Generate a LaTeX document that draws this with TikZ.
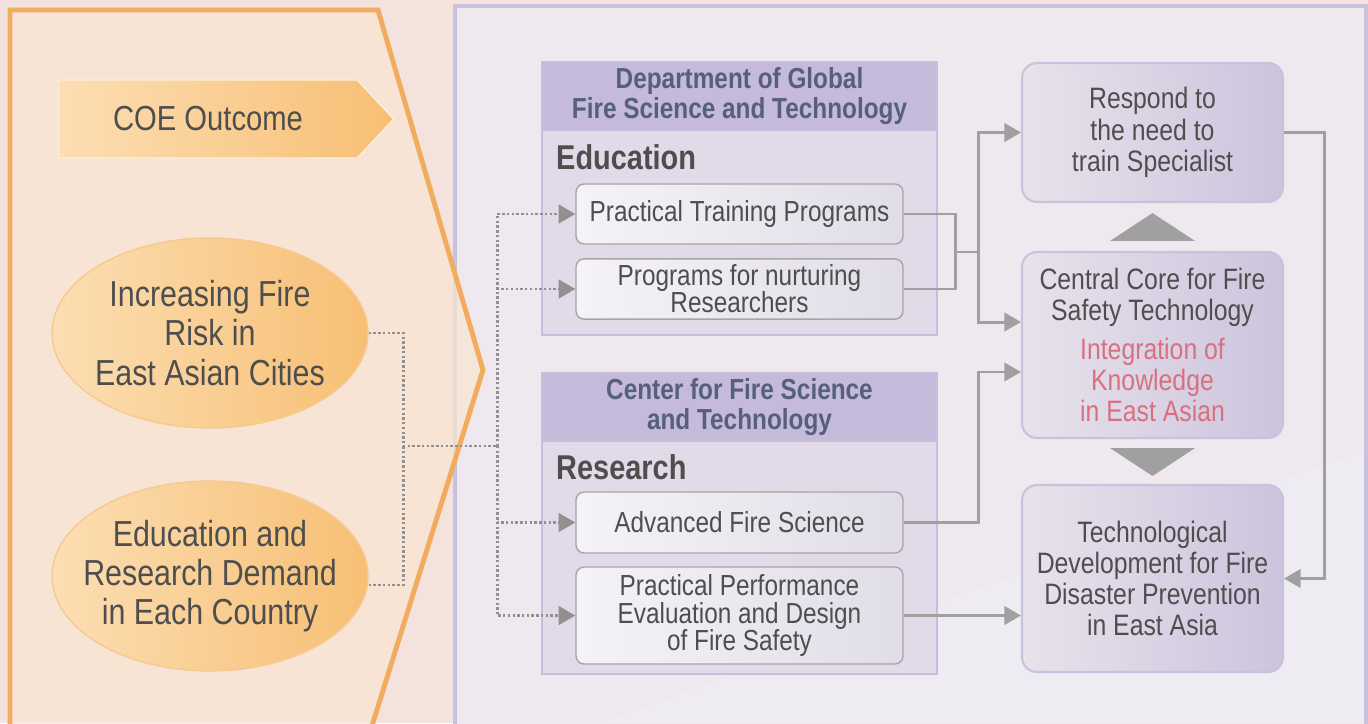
\documentclass[tikz,border=0pt]{standalone}
\usepackage{fontspec}
\setmainfont{Liberation Sans}[FakeStretch=0.84]
\usetikzlibrary{shapes.geometric,shapes.symbols,arrows.meta,calc}

\definecolor{bgpink}{HTML}{F4E2DD}
\definecolor{chevfill}{HTML}{F9E6D2}
\definecolor{chevedge}{HTML}{F1AC5F}
\definecolor{panelfill}{HTML}{EFE8EF}
\definecolor{panellow}{HTML}{EEEBF2}
\definecolor{paneledge}{HTML}{C8C2DF}
\definecolor{orlight}{HTML}{FCDEB3}
\definecolor{ordark}{HTML}{F7BF74}
\definecolor{oredge}{HTML}{F6CA8E}
\definecolor{grpfill}{HTML}{E2DAE8}
\definecolor{grphead}{HTML}{C5BAD9}
\definecolor{grpedge}{HTML}{C7BDDC}
\definecolor{headtext}{HTML}{56607E}
\definecolor{darktext}{HTML}{4E4E4E}
\definecolor{itemlight}{HTML}{F5F3F7}
\definecolor{itemdark}{HTML}{E1DDE8}
\definecolor{itemedge}{HTML}{A5A5A5}
\definecolor{reslight}{HTML}{E8E2EC}
\definecolor{resdark}{HTML}{CCC4DD}
\definecolor{linkgray}{HTML}{A0A0A0}
\definecolor{rosetext}{HTML}{D8707F}

\tikzset{
  ovalbox/.style={ellipse, draw=oredge, line width=0.8pt, left color=orlight, right color=ordark,
    inner xsep=-0.5cm, inner ysep=0pt, minimum width=6.32cm, minimum height=3.8cm,
    align=center, text=darktext, font=\fontsize{20.6}{22.4}\selectfont},
  groupbox/.style={draw=grpedge, line width=1.2pt, fill=grpfill, minimum width=7.9cm},
  headbox/.style={draw=grpedge, line width=1.2pt, fill=grphead, minimum width=7.9cm,
    align=center, text=headtext, font=\bfseries\fontsize{16.5}{16.8}\selectfont},
  sectlabel/.style={anchor=west, text=darktext, font=\bfseries\fontsize{19.6}{20}\selectfont},
  itembox/.style={draw=itemedge, line width=0.8pt, rounded corners=0.16cm, left color=itemlight,
    right color=itemdark, minimum width=6.54cm, align=center, text=darktext,
    font=\fontsize{16.5}{15.5}\selectfont},
  resultbox/.style={draw=paneledge, line width=1.2pt, rounded corners=0.3cm, left color=reslight,
    right color=resdark, minimum width=5.22cm, align=center, text=darktext,
    font=\fontsize{16.8}{17.8}\selectfont},
  dotlink/.style={draw=linkgray!90!black, line width=1.7pt, dash pattern=on 1.4pt off 1.3pt},
  link/.style={draw=linkgray, line width=1.7pt},
  linktip/.style={-{Triangle[length=9.5pt,width=10.5pt]}},
}

\begin{document}
\begin{tikzpicture}[x=0.02cm, y=-0.02cm]
    \useasboundingbox (0,0) rectangle (1368,723);
    \fill[bgpink] (0,0) rectangle (1368,723);
    % right panel
    \fill[panelfill] (455,6) rectangle (1366,760);
    \fill[panellow] (600,723) -- (1366,450) -- (1366,723) -- cycle;
    \draw[paneledge, line width=2.8pt] (455,6) rectangle (1366,760);
    % left chevron
    \filldraw[fill=chevfill, fill opacity=0.7, draw=chevedge, line width=2.8pt]
      (10,760) -- (10,10) -- (378,10) -- (483,370) -- (366,745);

    \node[signal, signal to=east, signal pointer angle=94, draw=orlight!50!white, line width=0.8pt,
      left color=orlight, right color=ordark, minimum width=6.7cm, minimum height=1.56cm,
      text=darktext, font=\fontsize{19.8}{20}\selectfont] (coe) at (208,119) {COE Outcome};

    \node[ovalbox] (risk) at (210,333) {Increasing Fire\\Risk in\\East Asian Cities};
    \node[ovalbox] (demand) at (210,576) {Education and\\Research Demand\\in Each Country};

    % education group
    \node[groupbox, minimum height=5.46cm] (dept) at (739.5,198.5) {};
    \node[headbox, minimum height=1.32cm, anchor=north] (depthead) at (dept.north)
      {Department of Global\\Fire Science and Technology};
    \node[sectlabel] (edu) at (550,157) {Education};
    \node[itembox, minimum height=1.2cm] (ptp) at (739.5,214) {Practical Training Programs};
    \node[itembox, minimum height=1.2cm] (nurt) at (739.5,289) {Programs for nurturing\\Researchers};

    % research group
    \node[groupbox, minimum height=6.02cm] (ctr) at (739.5,523.5) {};
    \node[headbox, minimum height=1.34cm, anchor=north] (ctrhead) at (ctr.north)
      {Center for Fire Science\\and Technology};
    \node[sectlabel] (res) at (550,467) {Research};
    \node[itembox, minimum height=1.22cm] (afs) at (739.5,522.5) {Advanced Fire Science};
    \node[itembox, minimum height=1.94cm] (ppe) at (739.5,615.5)
      {Practical Performance\\Evaluation and Design\\of Fire Safety};

    % outcomes
    \node[resultbox, minimum height=2.78cm] (resp) at (1152.5,132.5) {Respond to\\the need to\\train Specialist};
    \node[resultbox, minimum height=3.72cm] (core) at (1152.5,345)
      {Central Core for Fire\\Safety Technology\\[4pt]\textcolor{rosetext}{Integration of}\\
       \textcolor{rosetext}{Knowledge}\\\textcolor{rosetext}{in East Asian}};
    \node[resultbox, minimum height=3.74cm] (tech) at (1152.5,578.5)
      {Technological\\Development for Fire\\Disaster Prevention\\in East Asia};

    \fill[linkgray] ($(resp.south)+(0,10)$) -- ($(core.north)+(42.5,-10)$) -- ($(core.north)+(-42.5,-10)$) -- cycle;
    \fill[linkgray] ($(tech.north)+(0,-8)$) -- ($(core.south)+(42.5,9)$) -- ($(core.south)+(-42.5,9)$) -- cycle;

    % dotted inputs
    \coordinate (dj) at (403,446);
    \coordinate (dk) at (497,446);
    \draw[dotlink] (risk.east) -| (dj);
    \draw[dotlink] ([yshift=-0.18cm]demand.east) -| (dj);
    \draw[dotlink] (dj) -- (dk);
    \draw[dotlink, linktip] (dk) |- (ptp.west);
    \draw[dotlink, linktip] (dk) |- (nurt.west);
    \draw[dotlink, linktip] (dk) |- (afs.west);
    \draw[dotlink, linktip] (dk) |- (ppe.west);

    % solid outputs
    \coordinate (ej) at (955,252);
    \coordinate (ek) at (978,252);
    \draw[link] (ptp.east) -| (ej);
    \draw[link] (nurt.east) -| (ej);
    \draw[link] (ej) -- (ek);
    \draw[link, linktip] (ek) |- (resp.west);
    \draw[link, linktip] (ek) |- ([yshift=0.46cm]core.west);
    \draw[link, linktip] (afs.east) -- (afs.east -| ek) |- ([yshift=-0.54cm]core.west);
    \draw[link, linktip] (ppe.east) -- (ppe.east -| tech.west);
    \draw[link, linktip] (resp.east) -- ++(40,0) |- (tech.east);
  \end{tikzpicture}
\end{document}
